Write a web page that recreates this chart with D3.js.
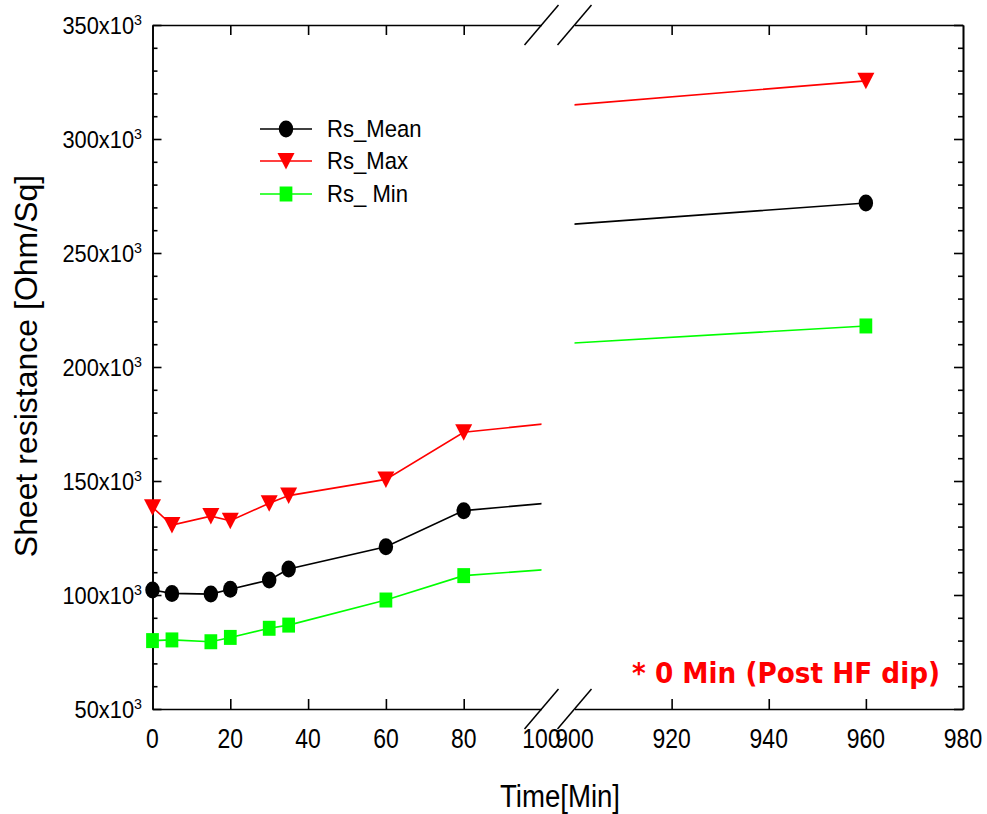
<!DOCTYPE html>
<html>
<head>
<meta charset="utf-8">
<script src="https://cdn.jsdelivr.net/npm/d3@7"></script>
<style>
body { margin: 0; background: #fff; }
text { font-family: "Liberation Sans", Arial, sans-serif; }
</style>
</head>
<body>
<svg id="chart" width="987" height="814"></svg>
<script>
// data (time in min, sheet resistance in Ohm/Sq)
const times = [0, 5, 15, 20, 30, 35, 60, 80, 960];
const rsMean = [102200, 100700, 100400, 102500, 106600, 111400, 121200, 137000, 271900];
const rsMax = [138500, 130700, 134600, 132600, 140200, 143600, 150700, 171400, 325500];
const rsMin = [80000, 80300, 79500, 81400, 85400, 86800, 97800, 108500, 218000];

const leftTicks = [0, 20, 40, 60, 80, 100];
const rightTicks = [900, 920, 940, 960, 980];
const yMajor = [50000, 100000, 150000, 200000, 250000, 300000, 350000];
const yMinor = d3.range(60000, 350000, 10000).filter(v => v % 50000 != 0);

const series = [
    {name: "Rs_Mean", values: rsMean, color: "#000000", mark: "circle"},
    {name: "Rs_Max", values: rsMax, color: "#ff0000", mark: "triangle"},
    {name: "Rs_ Min", values: rsMin, color: "#00ff00", mark: "square"}
];

const svg = d3.select("#chart");
const yTop = 25, yBot = 709;

const y = d3.scaleLinear().domain([50000, 350000]).range([yBot, yTop]);
const xL = d3.scaleLinear().domain([0, 100]).range([152.5, 541.5]);
const xR = d3.scaleLinear().domain([900, 980]).range([574.5, 963]);

// text helper, the original lettering is a bit squeezed sideways
function label(g, x, yy, txt, size, sx, anchor) {
    const t = g.append("g")
        .attr("transform", "translate(" + x + "," + yy + ") scale(" + sx + ",1)")
        .append("text")
        .attr("text-anchor", anchor)
        .attr("font-size", size)
        .text(txt);
    return t;
}

function markPath(kind) {
    if (kind == "circle") return d3.symbol(d3.symbolCircle, Math.PI * 8.5 * 8.5)();
    if (kind == "square") return d3.symbol(d3.symbolSquare, 15 * 15)();
    // downward triangle, centred on its box
    return "M-10,-8L10,-8L0,8.5Z";
}

// clip regions for the two panels
const defs = svg.append("defs");
defs.append("clipPath").attr("id", "clipL").append("rect")
    .attr("x", xL.range()[0]).attr("y", 0)
    .attr("width", xL.range()[1] - xL.range()[0]).attr("height", 814);
defs.append("clipPath").attr("id", "clipR").append("rect")
    .attr("x", xR.range()[0]).attr("y", 0)
    .attr("width", xR.range()[1] - xR.range()[0]).attr("height", 814);

const axes = svg.append("g").attr("class", "axes");

function styleAxis(g) {
    g.selectAll("path, line").attr("stroke", "#000").attr("stroke-width", 1.6);
    g.selectAll("text").remove();
}

// bottom and top axes, each panel
[[xL, [20, 40, 60, 80]], [xR, [920, 940, 960]]].forEach(function (p) {
    axes.append("g").attr("transform", "translate(0," + yBot + ")")
        .call(d3.axisBottom(p[0]).tickValues(p[1]).tickSizeInner(-10).tickSizeOuter(0))
        .call(styleAxis);
    axes.append("g").attr("transform", "translate(0," + yTop + ")")
        .call(d3.axisTop(p[0]).tickValues(p[1]).tickSizeInner(-10).tickSizeOuter(0))
        .call(styleAxis);
});

// left and right y axes
axes.append("g").attr("transform", "translate(" + xL.range()[0] + ",0)")
    .call(d3.axisLeft(y).tickValues(yMajor).tickSizeInner(-9).tickSizeOuter(0))
    .call(styleAxis);
axes.append("g").attr("transform", "translate(" + xL.range()[0] + ",0)")
    .call(d3.axisLeft(y).tickValues(yMinor).tickSizeInner(-5).tickSizeOuter(0))
    .call(styleAxis);
axes.append("g").attr("transform", "translate(" + xR.range()[1] + ",0)")
    .call(d3.axisRight(y).tickValues(yMajor).tickSizeInner(-9).tickSizeOuter(0))
    .call(styleAxis);
axes.append("g").attr("transform", "translate(" + xR.range()[1] + ",0)")
    .call(d3.axisRight(y).tickValues(yMinor).tickSizeInner(-5).tickSizeOuter(0))
    .call(styleAxis);

// break marks
[xL.range()[1], xR.range()[0]].forEach(function (bx) {
    [yTop, yBot].forEach(function (by) {
        axes.append("line")
            .attr("x1", bx - 17).attr("y1", by + 20)
            .attr("x2", bx + 17).attr("y2", by - 20)
            .attr("stroke", "#000").attr("stroke-width", 1.5);
    });
});

// tick labels
const labels = svg.append("g");
leftTicks.forEach(t => label(labels, xL(t), 748, t, 28, 0.82, "middle"));
rightTicks.forEach(t => label(labels, xR(t), 748, t, 28, 0.82, "middle"));
yMajor.forEach(function (v) {
    const t = label(labels, 142, y(v) + 9, "", 23, 0.95, "end");
    t.append("tspan").text(v / 1000 + "x10");
    t.append("tspan").attr("font-size", 15).attr("dy", -9).text("3");
});

// axis titles
svg.append("text")
    .attr("transform", "translate(37,366) rotate(-90)")
    .attr("text-anchor", "middle")
    .attr("font-size", 32)
    .text("Sheet resistance [Ohm/Sq]");
label(svg, 560, 807, "Time[Min]", 31, 0.89, "middle");

// lines and markers per panel
const plot = svg.append("g");
[[xL, "clipL", d => d <= 100], [xR, "clipR", d => d >= 900]].forEach(function (p) {
    const xs = p[0];
    series.forEach(function (s) {
        const pts = times.map((t, i) => [t, s.values[i]]);
        plot.append("path")
            .attr("clip-path", "url(#" + p[1] + ")")
            .attr("d", d3.line().x(d => xs(d[0])).y(d => y(d[1]))(pts))
            .attr("fill", "none")
            .attr("stroke", s.color)
            .attr("stroke-width", 1.6);
        plot.selectAll(null)
            .data(pts.filter(d => p[2](d[0])))
            .enter().append("path")
            .attr("d", markPath(s.mark))
            .attr("transform", d => "translate(" + xs(d[0]) + "," + y(d[1]) + ") scale(0.85,1)")
            .attr("fill", s.color);
    });
});

// legend
const legend = svg.append("g");
const rows = [129, 161, 194];
series.forEach(function (s, i) {
    legend.append("line")
        .attr("x1", 260).attr("x2", 312)
        .attr("y1", rows[i]).attr("y2", rows[i])
        .attr("stroke", s.color).attr("stroke-width", 1.6);
    legend.append("path")
        .attr("d", markPath(s.mark))
        .attr("transform", "translate(286," + rows[i] + ") scale(0.85,1)")
        .attr("fill", s.color);
    label(legend, 327, rows[i] + 8, s.name, 23.5, 0.94, "start");
});

// note
label(svg, 632, 683, "* 0 Min (Post HF dip)", 28, 0.94, "start")
    .style("font-family", "'DejaVu Sans', Verdana, sans-serif")
    .attr("font-weight", "bold")
    .attr("fill", "#ff0000");
</script>
</body>
</html>
